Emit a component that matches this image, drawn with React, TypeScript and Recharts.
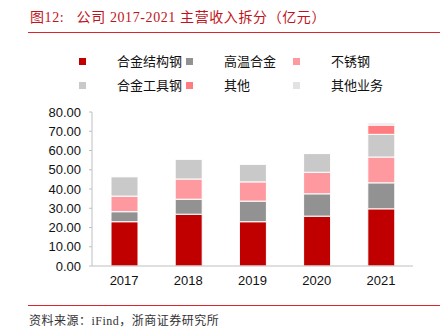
import { BarChart, Bar, XAxis, YAxis } from "recharts";

const years = ["2017", "2018", "2019", "2020", "2021"];
const alloyStructSteel = [23.0, 26.9, 23.0, 25.9, 29.7];
const superAlloy = [5.2, 7.8, 10.7, 11.6, 13.5];
const stainless = [8.1, 10.5, 10.0, 11.2, 13.4];
const alloyToolSteel = [10.0, 10.2, 9.1, 9.7, 11.8];
const others = [0, 0, 0, 0, 4.8];
const otherBusiness = [0, 0, 0, 0, 1.1];
const yTicks = [0, 10, 20, 30, 40, 50, 60, 70, 80];

const series = [
  { key: "s1", name: "合金结构钢", color: "#C00000", values: alloyStructSteel },
  { key: "s2", name: "高温合金", color: "#929292", values: superAlloy },
  { key: "s3", name: "不锈钢", color: "#FF99A0", values: stainless },
  { key: "s4", name: "合金工具钢", color: "#C9C9C9", values: alloyToolSteel },
  { key: "s5", name: "其他", color: "#FF7C80", values: others },
  { key: "s6", name: "其他业务", color: "#E2E2E2", values: otherBusiness },
];

const data = years.map((year, i) => {
  const row: Record<string, string | number> = { year };
  series.forEach((s) => {
    row[s.key] = s.values[i];
  });
  return row;
});

const sansFont = "'Liberation Sans', Arial, sans-serif";
const cjkFont = "'Noto Sans CJK SC', sans-serif";
const titleFont = "'Liberation Serif', 'Noto Sans CJK SC', serif";

const App = () => {
  return (
    <div
      style={{
        position: "fixed",
        left: 0,
        top: 0,
        width: 448,
        height: 327,
        background: "#fff",
        overflow: "hidden",
      }}
    >
      {/* title */}
      <div
        style={{
          position: "absolute",
          left: 30,
          top: 9,
          fontFamily: titleFont,
          fontSize: 14,
          letterSpacing: 0.6,
          color: "#C0141C",
          whiteSpace: "pre",
          lineHeight: "18px",
        }}
      >
        {"图12:   公司 2017-2021 主营收入拆分（亿元）"}
      </div>
      <div
        style={{
          position: "absolute",
          left: 28,
          top: 32,
          width: 412,
          height: 1,
          background: "#D9262E",
        }}
      />

      {/* legend */}
      {series.map((s, i) => {
        const col = i % 3;
        const row = Math.floor(i / 3);
        const sx = 79 + col * 107;
        const cy = 61 + row * 24;
        return (
          <div key={s.key}>
            <div
              style={{
                position: "absolute",
                left: sx,
                top: cy - 3.5,
                width: 7,
                height: 7,
                background: s.color,
              }}
            />
            <div
              style={{
                position: "absolute",
                left: sx + 38,
                top: cy - 10,
                fontFamily: cjkFont,
                fontSize: 13,
                lineHeight: "20px",
                color: "#111",
                whiteSpace: "nowrap",
              }}
            >
              {s.name}
            </div>
          </div>
        );
      })}

      <div style={{ position: "absolute", left: 0, top: 0 }}>
        <BarChart
          width={448}
          height={327}
          data={data}
          margin={{ top: 112, right: 35, left: 0, bottom: 0 }}
        >
          <XAxis
            xAxisId="ticks"
            type="number"
            domain={[0, 5]}
            ticks={[0, 1, 2, 3, 4, 5]}
            tick={false}
            height={0}
            tickSize={4}
            axisLine={false}
            tickLine={{ stroke: "#BFBFBF" }}
          />
          <XAxis
            xAxisId="cat"
            dataKey="year"
            height={61}
            tickLine={false}
            tickSize={0}
            tickMargin={10}
            axisLine={{ stroke: "#BFBFBF" }}
            tick={{ fill: "#111", fontSize: 13, fontFamily: sansFont }}
          />
          <YAxis
            width={92}
            domain={[0, 80]}
            ticks={yTicks}
            tickFormatter={(v: number) => v.toFixed(2)}
            tickSize={3}
            tickMargin={8}
            axisLine={{ stroke: "#BFBFBF" }}
            tickLine={{ stroke: "#BFBFBF" }}
            tick={{ fill: "#111", fontSize: 13, fontFamily: sansFont }}
            interval={0}
          />
          {series.map((s) => (
            <Bar
              key={s.key}
              xAxisId="cat"
              dataKey={s.key}
              name={s.name}
              stackId="a"
              fill={s.color}
              stroke="#fff"
              strokeWidth={1}
              barSize={27}
              isAnimationActive={false}
            />
          ))}
        </BarChart>
      </div>

      {/* source */}
      <div
        style={{
          position: "absolute",
          left: 28,
          top: 305,
          width: 412,
          height: 1,
          background: "#D9262E",
        }}
      />
      <div
        style={{
          position: "absolute",
          left: 29,
          top: 313,
          fontFamily: titleFont,
          fontSize: 12,
          letterSpacing: 0.5,
          color: "#333",
          whiteSpace: "nowrap",
          lineHeight: "16px",
        }}
      >
        资料来源：iFind，浙商证券研究所
      </div>
    </div>
  );
};

export default App;
